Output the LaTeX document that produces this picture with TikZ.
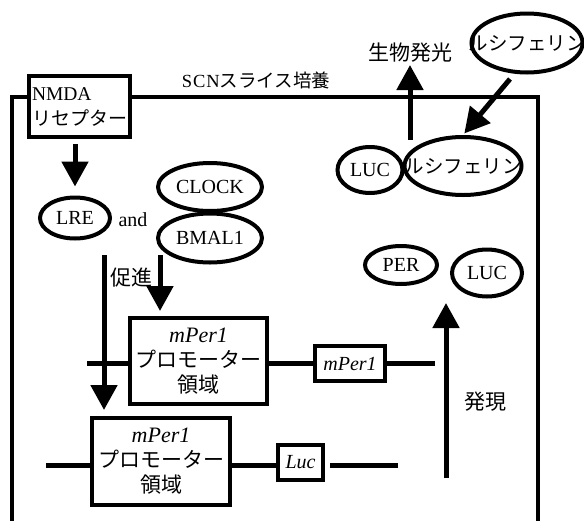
\documentclass[tikz,border=0pt]{standalone}
\usepackage{fontspec}
\setmainfont{Liberation Serif}
\newfontfamily\jp{Noto Sans CJK JP}
\usetikzlibrary{shapes.geometric,arrows.meta}
\begin{document}
\begin{tikzpicture}[x=1pt,y=-1pt,
  ell/.style={ellipse,draw,line width=4pt,inner sep=0pt,fill=white,font=\fontsize{20}{20}\selectfont},
  gbox/.style={draw,line width=4pt,inner sep=0pt,fill=white},
  arr/.style={line width=5pt,-{Triangle[length=25pt,width=26pt]}},
  dna/.style={line width=5pt},
  jtext/.style={font=\jp\fontsize{21}{21}\selectfont},
]
\useasboundingbox (0,0) rectangle (584,520);
% frame
\draw[line width=4pt] (12,521) -- (12,97) -- (538,97) -- (538,521);
% NMDA receptor
\node[gbox,minimum width=101pt,minimum height=61pt,align=left,font=\fontsize{19.5}{25}\selectfont] (nmda) at (79.5,106.5) {NMDA\\{\jp\fontsize{19}{25}\selectfont リセプター}};
\node[font=\fontsize{18.5}{18.5}\selectfont] (scn) at (256,80) {S\kern1ptC\kern1ptN{\jp スライス培養}};
% ellipses
\node[ell,minimum width=70pt,minimum height=41pt] (lre) at (75,218) {\makebox[0pt]{LRE}};
\node[ell,minimum width=104pt,minimum height=48pt] (clock) at (210,187) {\makebox[0pt]{CLOCK}};
\node[ell,minimum width=104pt,minimum height=49pt] (bmal) at (210,238) {\makebox[0pt]{BMAL1}};
\node[font=\fontsize{20}{20}\selectfont] (and) at (133,220) {and};
\node[ell,minimum width=65pt,minimum height=46pt] (luc1) at (370,170) {\makebox[0pt]{LUC}};
\node[ell,minimum width=117pt,minimum height=58pt] (luci1) at (463,166) {\makebox[0pt]{\jp\fontsize{19.5}{19.5}\selectfont ルシフェリン}};
\node[ell,minimum width=111pt,minimum height=59pt] (luci2) at (527,43) {\makebox[0pt]{\jp\fontsize{19.5}{19.5}\selectfont ルシフェリン}};
\node[ell,minimum width=72pt,minimum height=38pt] (per) at (401,265) {\makebox[0pt]{PER}};
\node[ell,minimum width=70pt,minimum height=47pt] (luc2) at (487,273) {\makebox[0pt]{LUC}};
% labels
\node[jtext] (bio) at (410,53) {生物発光};
\node[jtext] (soku) at (131,278) {促進};
\node[jtext] (hatsu) at (485,402) {発現};
% promoter boxes
\node[gbox,minimum width=137pt,minimum height=86pt,align=center,font=\fontsize{21}{25}\selectfont] (up) at (198.5,361) {{\fontsize{22}{25}\selectfont\textit{mPer1}}\\{\jp プロモーター}\\{\jp 領域}};
\node[gbox,minimum width=138pt,minimum height=87pt,align=center,font=\fontsize{21}{25}\selectfont] (low) at (161,461.5) {{\fontsize{22}{25}\selectfont\textit{mPer1}}\\{\jp プロモーター}\\{\jp 領域}};
\node[gbox,minimum width=70pt,minimum height=35pt,font=\fontsize{20}{20}\selectfont\itshape] (mper) at (350,363.5) {mPer1};
\node[gbox,minimum width=45pt,minimum height=35pt,font=\fontsize{20}{20}\selectfont\itshape] (luc) at (300.5,462.5) {Luc};
% DNA lines
\coordinate (u0) at (87,363);
\coordinate (u1) at (435,363);
\draw[dna] (u0) -- (u0 -| up.west);
\draw[dna] (up.east |- u0) -- (mper.west |- u0);
\draw[dna] (mper.east |- u0) -- (u1);
\coordinate (l0) at (46,465);
\coordinate (l1) at (398,465);
\draw[dna] (l0) -- (l0 -| low.west);
\draw[dna] (low.east |- l0) -- (luc.west |- l0);
\draw[dna,shorten <=5pt] (luc.east |- l0) -- (l1);
% arrows
\draw[arr,shorten <=5pt,shorten >=9pt] (lre.north |- nmda.south) -- (lre.north);
\coordinate (p1) at (104,255);
\draw[arr,shorten >=6pt] (p1) -- (p1 |- low.north);
\coordinate (p2) at (160,255);
\draw[arr,shorten >=5pt] (p2) -- (p2 |- up.north);
\coordinate (e1) at (446,478);
\coordinate (e2) at (446,303);
\draw[arr] (e1) -- (e2);
\coordinate (b1) at (410,140);
\coordinate (b2) at (410,65);
\draw[arr] (b1) -- (b2);
\coordinate (c1) at (510,79);
\draw[arr,shorten >=2pt] (c1) -- (luci1.north);
\end{tikzpicture}
\end{document}
